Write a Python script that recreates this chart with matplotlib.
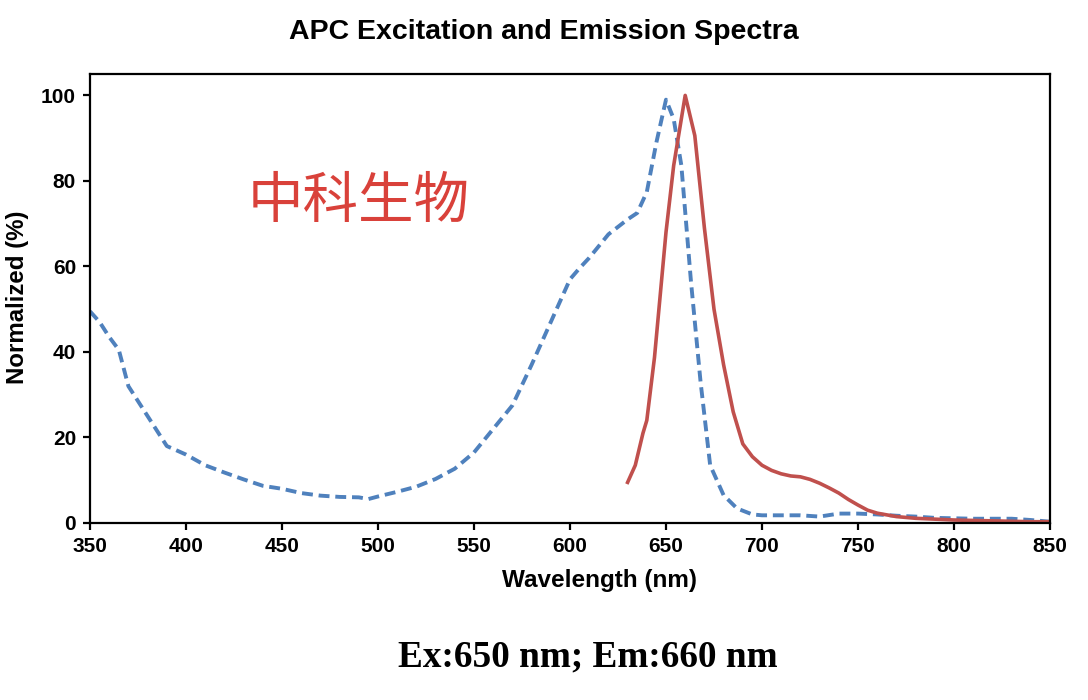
import matplotlib
matplotlib.use('Agg')
import matplotlib.pyplot as plt

# excitation spectrum (blue, dashed)
ex_nm = [350, 355, 360, 365, 370, 380, 390, 400, 410, 420, 430, 440, 450, 460, 470,
         480, 490, 495, 500, 510, 520, 530, 540, 550, 560, 570, 580, 590, 600, 605,
         610, 620, 630, 635, 640, 645, 650, 654, 658, 663, 668, 673, 680, 687, 695,
         700, 710, 720, 730, 740, 750, 760, 770, 780, 790, 800, 810, 820, 830, 840, 850]
ex_val = [49.5, 47, 43.5, 40.5, 32, 25, 18, 16, 13.5, 11.8, 10.2, 8.7, 8.0, 7.0, 6.4,
          6.1, 6.0, 5.6, 6.2, 7.3, 8.5, 10.3, 12.7, 16.5, 22, 27.5, 37, 47, 57, 59.6,
          62, 67.5, 71, 72.5, 77.4, 89, 99, 94.5, 83.6, 56.5, 33, 13.5, 6.5, 3.4, 2.0,
          1.8, 1.8, 1.8, 1.5, 2.2, 2.2, 2.0, 1.7, 1.5, 1.2, 1.1, 1.0, 1.0, 1.0, 0.7, 0.3]

# emission spectrum (red, solid)
em_nm = [630, 634, 638, 640, 644, 650, 654, 660, 665, 670, 675, 680, 685, 690, 695,
         700, 705, 710, 715, 720, 725, 730, 735, 740, 745, 750, 755, 760, 770, 780,
         790, 800, 810, 820, 830, 840, 850]
em_val = [9.5, 13.5, 21, 24, 38.7, 68, 83.6, 100, 90.6, 69, 50, 37, 26, 18.5, 15.5,
          13.5, 12.3, 11.5, 11.0, 10.8, 10.2, 9.3, 8.2, 7.0, 5.5, 4.2, 3.0, 2.3, 1.5, 1.1,
          0.9, 0.7, 0.6, 0.5, 0.4, 0.3, 0.3]

x_ticks = [350, 400, 450, 500, 550, 600, 650, 700, 750, 800, 850]
y_ticks = [0, 20, 40, 60, 80, 100]

plt.rcParams['font.family'] = ['Liberation Sans', 'DejaVu Sans']

fig = plt.figure(figsize=(10.88, 7), dpi=100)
ax = fig.add_axes([90/1088, 1 - 523/700, 960/1088, 449/700])

ax.plot(ex_nm, ex_val, color='#4F81BD', lw=2.8, linestyle=(0, (2.8, 1.5)))
ax.plot(em_nm, em_val, color='#C0504D', lw=2.6)

ax.set_xlim(350, 850)
ax.set_ylim(0, 105)
ax.set_xticks(x_ticks)
ax.set_yticks(y_ticks)
for s in ax.spines.values():
    s.set_linewidth(1.6)
ax.tick_params(direction='out', length=5, width=1.6, labelsize=15, pad=5)
for lab in ax.get_xticklabels() + ax.get_yticklabels():
    lab.set_fontweight('bold')

# x label sits a bit right of the axes centre in the original
fig.text(600/1088, 1 - 580/700, 'Wavelength (nm)', ha='center', va='center',
         fontsize=17.5, fontweight='bold')
fig.text(18/1088, 1 - 297/700, 'Normalized (%)', ha='center', va='center',
         rotation=90, fontsize=17.3, fontweight='bold')

fig.text(0.5, 1 - 32/700, 'APC Excitation and Emission Spectra', ha='center', va='center',
         fontsize=20.5, fontweight='bold')

ax.text(432, 75, '中科生物', color='#D9413A', fontsize=40, va='center', ha='left',
        family=['Noto Sans CJK SC', 'DejaVu Sans'])

fig.text(588/1088, 1 - 657/700, 'Ex:650 nm; Em:660 nm', ha='center', va='center',
         fontsize=26.8, fontweight='bold', family=['Liberation Serif', 'DejaVu Serif'])

fig.savefig('out.png', dpi=100)
